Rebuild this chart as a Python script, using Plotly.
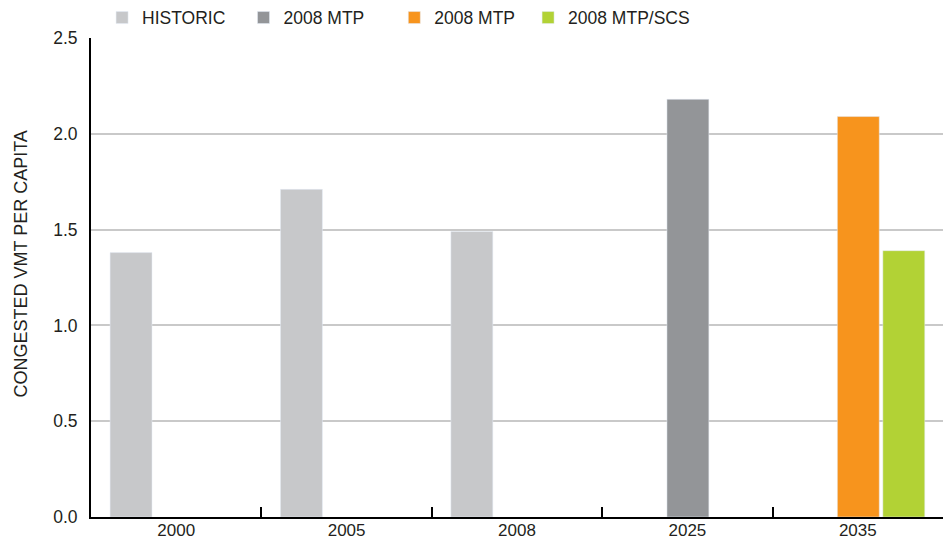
import plotly.graph_objects as go

hist_years = ["2000", "2005", "2008"]
hist_values = [1.38, 1.71, 1.49]
mtp_years = ["2025"]
mtp_values = [2.18]
mtp35_years = ["2035"]
mtp35_values = [2.09]
scs_years = ["2035"]
scs_values = [1.39]
categories = ["2000", "2005", "2008", "2025", "2035"]

FONT = "Liberation Sans"
TXT = "#231f20"
BW = 0.246

fig = go.Figure()
fig.add_trace(go.Bar(name="HISTORIC", x=hist_years, y=hist_values, marker_color="#c7c8ca",
                     width=BW, offset=-0.388, legend="legend"))
fig.add_trace(go.Bar(name="2008 MTP", x=mtp_years, y=mtp_values, marker_color="#939598",
                     width=BW, offset=-0.12, legend="legend2"))
fig.add_trace(go.Bar(name="2008 MTP", x=mtp35_years, y=mtp35_values, marker_color="#f7941d",
                     width=BW, offset=-0.12, legend="legend3"))
fig.add_trace(go.Bar(name="2008 MTP/SCS", x=scs_years, y=scs_values, marker_color="#b2d235",
                     width=BW, offset=0.147, legend="legend4"))


def leg(xp):
    return dict(orientation="h", x=xp, xanchor="left", y=1.08, yanchor="top",
                font=dict(size=17.5, color=TXT), itemclick=False, bgcolor="rgba(0,0,0,0)")


fig.update_layout(
    width=943, height=542,
    barmode="overlay",
    plot_bgcolor="white", paper_bgcolor="white",
    margin=dict(l=91, r=0, t=38, b=25, autoexpand=False),
    font=dict(family=FONT, size=17, color=TXT),
    showlegend=True,
    legend=leg(0.013),
    legend2=leg(0.179),
    legend3=leg(0.356),
    legend4=leg(0.513),
    annotations=[dict(text="CONGESTED VMT PER CAPITA", xref="paper", yref="paper",
                      x=0, y=0.5, xshift=-71, yshift=13, xanchor="center", yanchor="middle",
                      textangle=-90, showarrow=False, font=dict(size=18, color=TXT))],
)
fig.update_xaxes(type="category", categoryorder="array", categoryarray=categories,
                 range=[-0.5, 4.5], showline=True, linecolor="black", linewidth=2,
                 ticks="inside", tickson="boundaries", ticklen=10, tickwidth=1.5,
                 tickcolor="black", showgrid=False, automargin=False,
                 ticklabelstandoff=-3,
                 tickfont=dict(size=17, color=TXT))
fig.update_yaxes(range=[0, 2.5], tickvals=[0, 0.5, 1.0, 1.5, 2.0, 2.5],
                 ticktext=["0.0", "0.5", "1.0", "1.5", "2.0", "2.5"],
                 showline=True, linecolor="black", linewidth=2, zeroline=False,
                 showgrid=True, gridcolor="#c9c9c9", gridwidth=1.5,
                 ticks="", ticklabelstandoff=8, automargin=False,
                 tickfont=dict(size=17.5, color=TXT))

fig.write_html("out.html", config={"displayModeBar": False},
               post_script="document.body.style.margin='0';document.body.style.overflow='hidden';")
